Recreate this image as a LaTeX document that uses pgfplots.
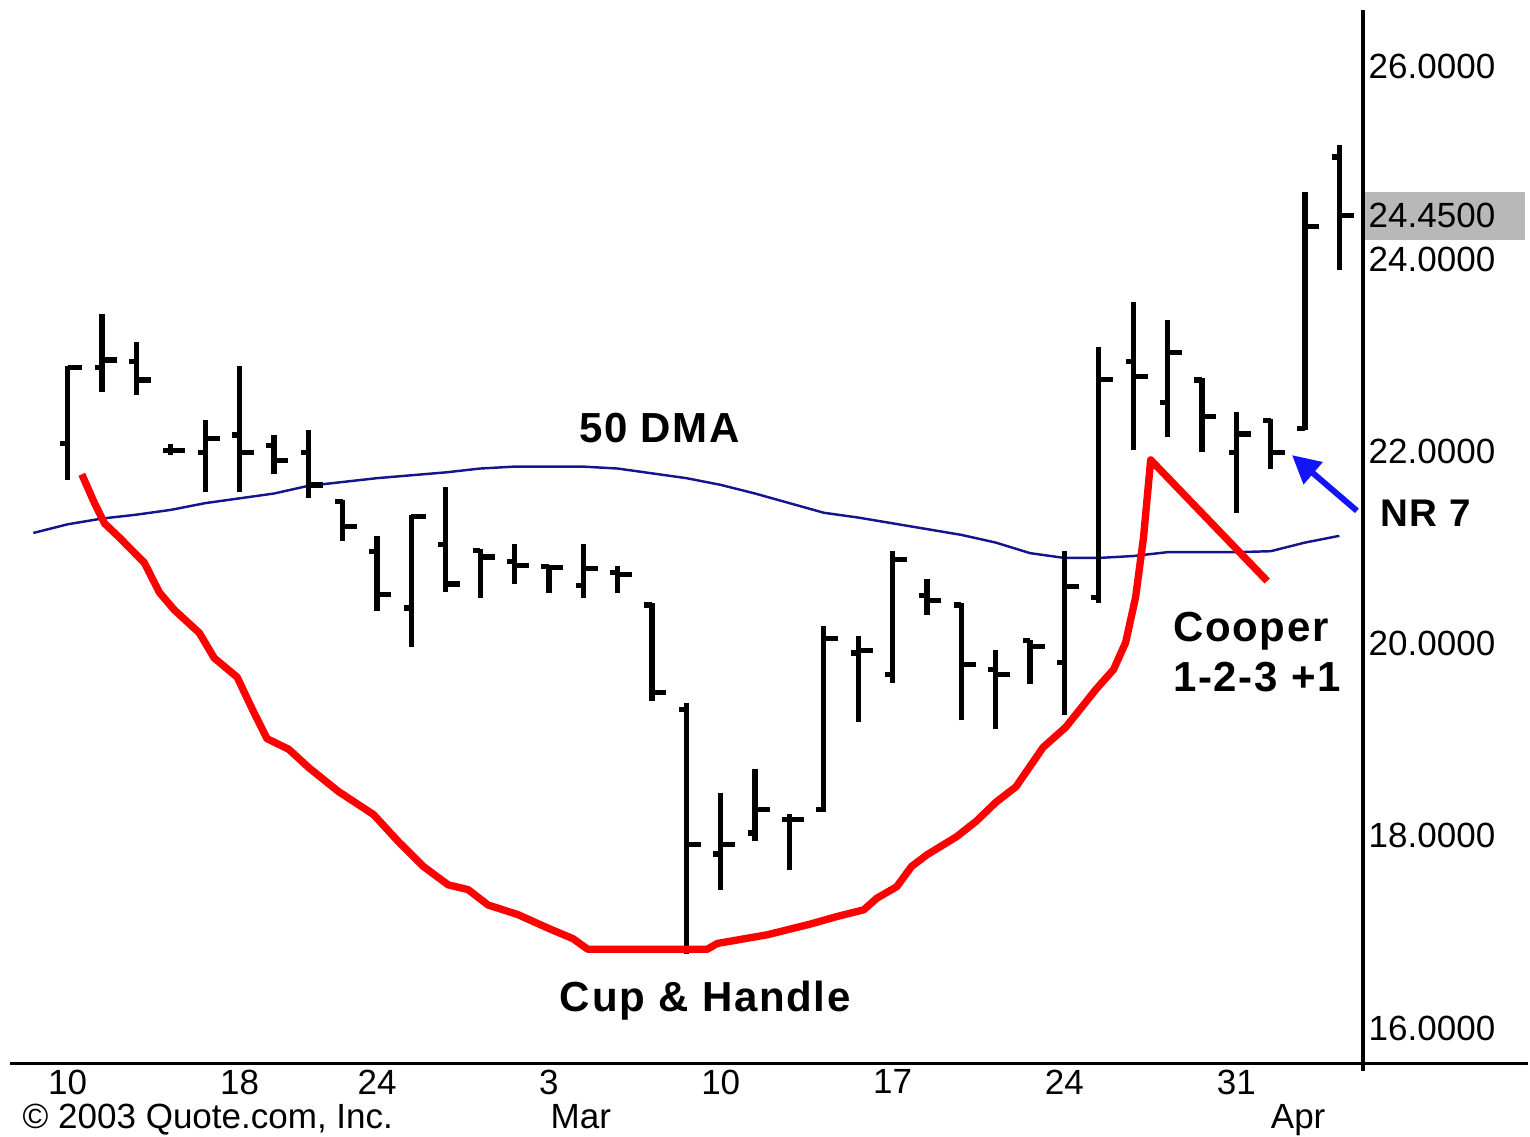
\documentclass[border=0pt]{standalone}
\usepackage{fontspec}
\setmainfont{Liberation Sans}
\newfontfamily\annfont[LetterSpace=4]{Liberation Sans}
\usepackage{pgfplots}
\usepackage{pgfplotstable}
\pgfplotsset{compat=1.18}
\usetikzlibrary{arrows.meta}

\definecolor{dma}{RGB}{20,20,140}
\definecolor{arrowblue}{RGB}{20,20,250}

% daily bars: index, open, high, low, close
\pgfplotstableread{
i o h l c
0 22.08 22.89 21.70 22.87
1 22.87 23.43 22.62 22.95
2 22.93 23.14 22.58 22.74
3 22.01 22.08 21.96 22.01
4 21.99 22.32 21.58 22.13
5 22.17 22.89 21.58 21.99
6 22.06 22.17 21.76 21.90
7 21.99 22.22 21.51 21.65
8 21.48 21.49 21.07 21.22
9 20.96 21.12 20.34 20.51
10 20.37 21.34 19.96 21.32
11 21.03 21.63 20.54 20.62
12 20.97 20.98 20.47 20.90
13 20.85 21.03 20.62 20.81
14 20.80 20.81 20.53 20.79
15 20.60 21.03 20.47 20.78
16 20.74 20.81 20.53 20.72
17 20.40 20.42 19.40 19.49
18 19.31 19.38 16.77 17.91
19 17.81 18.45 17.44 17.91
20 18.03 18.69 17.95 18.27
21 18.17 18.23 17.64 18.17
22 18.27 20.18 18.25 20.05
23 19.90 20.08 19.18 19.93
24 19.68 20.96 19.59 20.87
25 20.50 20.67 20.30 20.45
26 20.40 20.42 19.20 19.78
27 19.73 19.93 19.11 19.68
28 20.03 20.04 19.58 19.97
29 19.80 20.96 19.26 20.59
30 20.48 23.08 20.42 22.75
31 22.93 23.55 22.01 22.78
32 22.51 23.36 22.15 23.03
33 22.74 22.76 21.99 22.36
34 21.99 22.41 21.36 22.18
35 22.32 22.34 21.81 21.99
36 22.24 24.70 22.22 24.34
37 25.06 25.19 23.88 24.45
}\ohlc

% 50 day moving average
\pgfplotstableread{
i p
-1 21.15
0 21.24
1 21.30
2 21.34
3 21.39
4 21.46
5 21.51
6 21.56
7 21.64
8 21.68
9 21.72
10 21.75
11 21.78
12 21.82
13 21.84
14 21.84
15 21.84
16 21.82
17 21.77
18 21.72
19 21.65
20 21.56
21 21.46
22 21.36
23 21.31
24 21.25
25 21.19
26 21.13
27 21.05
28 20.94
29 20.89
30 20.89
31 20.91
32 20.95
33 20.95
34 20.95
35 20.96
36 21.05
37 21.12
}\dmatab

% hand drawn cup, handle and breakout
\pgfplotstableread{
i p
0.41 21.76
0.78 21.46
1.07 21.25
1.51 21.10
2.23 20.84
2.67 20.53
3.10 20.35
3.83 20.11
4.26 19.85
4.93 19.65
5.42 19.28
5.80 19.01
6.43 18.90
7.01 18.71
7.88 18.46
8.90 18.22
9.62 17.94
10.35 17.68
11.07 17.49
11.65 17.44
12.23 17.28
13.10 17.18
13.97 17.04
14.70 16.93
15.13 16.82
18.61 16.82
18.90 16.88
20.35 16.97
21.59 17.08
22.38 17.16
23.16 17.23
23.54 17.35
24.12 17.47
24.55 17.68
24.99 17.80
25.86 17.99
26.43 18.15
27.01 18.35
27.59 18.51
28.38 18.92
29.04 19.13
29.91 19.52
30.43 19.73
30.78 20.01
31.07 20.48
31.30 21.10
31.51 21.91
34.90 20.65
}\cuptab

\begin{document}
\begin{tikzpicture}
\begin{axis}[
  scale only axis, width=13.58cm, height=10.58cm,
  xmin=-1.68, xmax=37.68, ymin=15.627, ymax=26.59,
  axis x line=bottom, axis y line=right,
  axis line style={draw=none},
  major tick length=0pt,
  clip=false,
  font=\fontsize{10}{12}\selectfont,
  /pgf/number format/assume math mode=true,
  xtick={0,5,9,14,19,24,29,34},
  xticklabels={10,18,24,3,10,17,24,31},
  xticklabel style={anchor=north, inner ysep=1.5pt},
  ytick={16,18,...,26},
  extra y ticks={24.45},
  yticklabel style={anchor=west, inner xsep=1.5pt,
    /pgf/number format/fixed, /pgf/number format/fixed zerofill,
    /pgf/number format/precision=4},
  extra y tick style={yticklabel style={fill=black!28, text width=1.52cm,
    align=left, minimum height=0.38cm}},
  error bars/error bar style={draw=black, line width=1.5pt},
]
  \coordinate (sw) at (rel axis cs:0,0);
  \coordinate (ne) at (rel axis cs:1,1);

  \addplot[dma, line width=0.7pt] table[x=i, y=p] {\dmatab};

  % high-low range
  \addplot[draw=none, mark=none, error bars/.cd, y dir=plus, y explicit,
    error mark=none]
    table[x=i, y=l, y error expr=\thisrow{h}-\thisrow{l}] {\ohlc};
  % open ticks
  \addplot[draw=none, mark=none, error bars/.cd, x dir=minus, x fixed=0.22,
    error mark=none]
    table[x=i, y=o] {\ohlc};
  % close ticks
  \addplot[draw=none, mark=none, error bars/.cd, x dir=plus, x fixed=0.42,
    error mark=none]
    table[x=i, y=c] {\ohlc};

  \addplot[red, line width=2.1pt, line join=round] table[x=i, y=p] {\cuptab};
  \addplot[arrowblue, line width=1.7pt, -{Triangle[length=8pt, width=8pt]}]
    coordinates {(37.51,21.38) (35.62,21.96)};

  \draw[line width=0.9pt] (axis cs:-1.68,15.627) -- (axis cs:42.5,15.627);
  \draw[line width=1.1pt] (axis cs:37.68,15.55) -- (axis cs:37.68,26.59);

  \node[font=\annfont\bfseries\fontsize{12}{14}\selectfont] at (axis cs:17.22,22.24) {50 DMA};
  \node[font=\annfont\bfseries\fontsize{12}{14}\selectfont] at (axis cs:18.55,16.28) {Cup \& Handle};
  \node[anchor=west, inner sep=0pt, font=\annfont\bfseries\fontsize{12}{14}\selectfont]
    at (axis cs:32.14,20.13) {Cooper};
  \node[anchor=west, inner sep=0pt, font=\annfont\bfseries\fontsize{12}{14}\selectfont]
    at (axis cs:32.14,19.65) {1-2-3 +1};
  \node[anchor=west, inner sep=0pt, font=\annfont\bfseries\fontsize{11}{13}\selectfont]
    at (axis cs:38.17,21.36) {NR 7};

  \node[anchor=base, inner sep=0pt] at (axis cs:14.93,14.95) {Mar};
  \node[anchor=base, inner sep=0pt] at (axis cs:35.80,14.95) {Apr};
  \node[anchor=base west, inner sep=0pt] at (axis cs:-1.33,14.95) {\textcopyright\ 2003 Quote.com, Inc.};
\end{axis}
\path[use as bounding box] ([shift={(-0.10cm,-0.71cm)}]sw) rectangle ([shift={(1.62cm,0.10cm)}]ne);
\end{tikzpicture}
\end{document}
